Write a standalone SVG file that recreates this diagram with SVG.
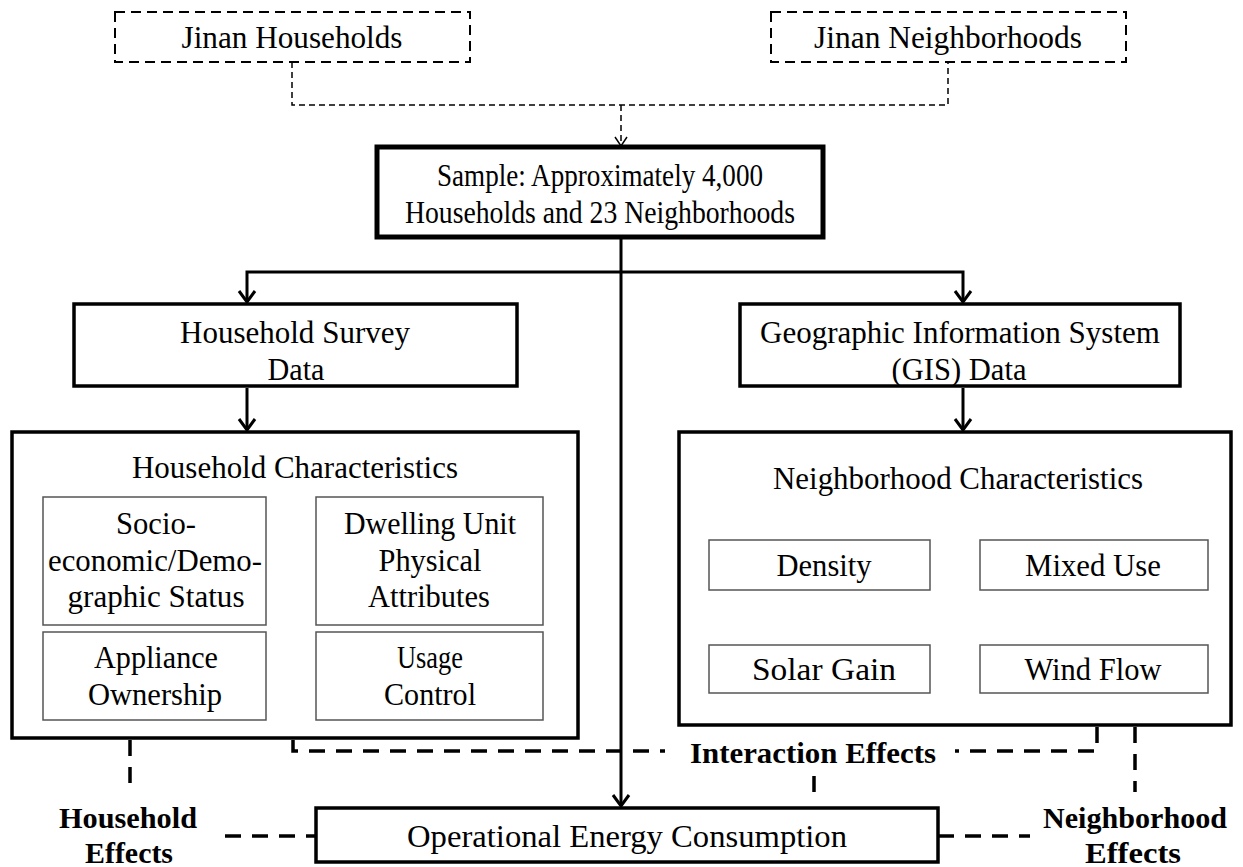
<svg xmlns="http://www.w3.org/2000/svg" width="1243" height="867" viewBox="0 0 1243 867">
<style>
text{font-family:"Liberation Serif","Times New Roman",serif;fill:#000;text-anchor:middle}
.t{font-size:31px}
.b{font-size:30px;font-weight:bold}
.dbox{fill:none;stroke:#000;stroke-width:2;stroke-dasharray:10 6}
.thick{fill:#fff;stroke:#000;stroke-width:5}
.box{fill:#fff;stroke:#000;stroke-width:3.5}
.inner{fill:#fff;stroke:#555;stroke-width:1.5}
.ln{fill:none;stroke:#000;stroke-width:3}
.thin{fill:none;stroke:#000;stroke-width:1.5;stroke-dasharray:6 4}
.dash{fill:none;stroke:#000;stroke-width:3.5;stroke-dasharray:16 11}
</style>
<defs>
<marker id="ah" markerUnits="userSpaceOnUse" markerWidth="20" markerHeight="20" refX="17" refY="10" orient="auto-start-reverse" viewBox="0 0 20 20">
<path d="M6,2 L17,10 L6,18" fill="none" stroke="#000" stroke-width="3"/>
</marker>
<marker id="ahs" markerUnits="userSpaceOnUse" markerWidth="16" markerHeight="16" refX="14" refY="8" orient="auto-start-reverse" viewBox="0 0 16 16">
<path d="M5,2 L14,8 L5,14" fill="none" stroke="#000" stroke-width="1.5"/>
</marker>
</defs>

<g id="connectors">
<path class="thin" d="M292,62 V105 H948 V62"/>
<path d="M621,105 V146" fill="none" stroke="#000" stroke-width="1.5" stroke-dasharray="6 4" marker-end="url(#ahs)"/>
<path class="ln" d="M621,239 V806" marker-end="url(#ah)"/>
<path class="ln" d="M247,302 V272 H963 V302" marker-end="url(#ah)" marker-start="url(#ah)"/>
<path class="ln" d="M247,388 V430" marker-end="url(#ah)"/>
<path class="ln" d="M963,388 V430" marker-end="url(#ah)"/>
<path class="dash" d="M130,740 V792"/>
<path class="dash" d="M293,740 V751 H665"/>
<path class="dash" d="M1097,727 V751 H955"/>
<path class="dash" d="M1135,727 V792"/>
<path class="dash" d="M814,776 V796"/>
<path class="dash" d="M225,836 H316"/>
<path class="dash" d="M938,836 H1030"/>
</g>

<g id="jinan-households">
<rect class="dbox" x="115" y="12" width="355" height="50"/>
<text class="t" x="292" y="48" textLength="221" lengthAdjust="spacingAndGlyphs">Jinan Households</text>
</g>
<g id="jinan-neighborhoods">
<rect class="dbox" x="771" y="12" width="355" height="50"/>
<text class="t" x="948" y="48" textLength="268" lengthAdjust="spacingAndGlyphs">Jinan Neighborhoods</text>
</g>
<g id="sample">
<rect class="thick" x="377" y="147" width="446" height="90"/>
<text class="t" x="600" y="186" textLength="326" lengthAdjust="spacingAndGlyphs">Sample: Approximately 4,000</text>
<text class="t" x="600" y="223" textLength="390" lengthAdjust="spacingAndGlyphs">Households and 23 Neighborhoods</text>
</g>
<g id="household-survey">
<rect class="box" x="74" y="304" width="443" height="82"/>
<text class="t" x="295" y="343" textLength="230" lengthAdjust="spacingAndGlyphs">Household Survey</text>
<text class="t" x="296" y="380" textLength="57" lengthAdjust="spacingAndGlyphs">Data</text>
</g>
<g id="gis">
<rect class="box" x="740" y="304" width="440" height="82"/>
<text class="t" x="960" y="343" textLength="400" lengthAdjust="spacingAndGlyphs">Geographic Information System</text>
<text class="t" x="959" y="380" textLength="135" lengthAdjust="spacingAndGlyphs">(GIS) Data</text>
</g>
<g id="household-characteristics">
<rect class="box" x="12" y="432" width="566" height="306"/>
<text class="t" x="295" y="478" textLength="326" lengthAdjust="spacingAndGlyphs">Household Characteristics</text>
<g id="socio">
<rect class="inner" x="43" y="497" width="223" height="128"/>
<text class="t" x="156" y="534" textLength="80" lengthAdjust="spacingAndGlyphs">Socio-</text>
<text class="t" x="155" y="571" textLength="214" lengthAdjust="spacingAndGlyphs">economic/Demo-</text>
<text class="t" x="156" y="607" textLength="177" lengthAdjust="spacingAndGlyphs">graphic Status</text>
</g>
<g id="dwelling">
<rect class="inner" x="316" y="497" width="227" height="128"/>
<text class="t" x="430" y="534" textLength="172" lengthAdjust="spacingAndGlyphs">Dwelling Unit</text>
<text class="t" x="430" y="571" textLength="103" lengthAdjust="spacingAndGlyphs">Physical</text>
<text class="t" x="429" y="607" textLength="122" lengthAdjust="spacingAndGlyphs">Attributes</text>
</g>
<g id="appliance">
<rect class="inner" x="43" y="632" width="223" height="88"/>
<text class="t" x="156" y="668" textLength="124" lengthAdjust="spacingAndGlyphs">Appliance</text>
<text class="t" x="155" y="705" textLength="134" lengthAdjust="spacingAndGlyphs">Ownership</text>
</g>
<g id="usage">
<rect class="inner" x="316" y="632" width="227" height="88"/>
<text class="t" x="430" y="668" textLength="66" lengthAdjust="spacingAndGlyphs">Usage</text>
<text class="t" x="430" y="705" textLength="92" lengthAdjust="spacingAndGlyphs">Control</text>
</g>
</g>
<g id="neighborhood-characteristics">
<rect class="box" x="679" y="432" width="552" height="293"/>
<text class="t" x="958" y="489" textLength="370" lengthAdjust="spacingAndGlyphs">Neighborhood Characteristics</text>
<g id="density">
<rect class="inner" x="709" y="540" width="221" height="50"/>
<text class="t" x="824" y="576" textLength="95" lengthAdjust="spacingAndGlyphs">Density</text>
</g>
<g id="mixed-use">
<rect class="inner" x="980" y="540" width="228" height="50"/>
<text class="t" x="1093" y="576" textLength="136" lengthAdjust="spacingAndGlyphs">Mixed Use</text>
</g>
<g id="solar-gain">
<rect class="inner" x="709" y="645" width="221" height="48"/>
<text class="t" x="824" y="680" textLength="144" lengthAdjust="spacingAndGlyphs">Solar Gain</text>
</g>
<g id="wind-flow">
<rect class="inner" x="980" y="645" width="228" height="48"/>
<text class="t" x="1093" y="680" textLength="137" lengthAdjust="spacingAndGlyphs">Wind Flow</text>
</g>
</g>
<g id="interaction-effects">
<text class="b" x="813" y="763" textLength="246" lengthAdjust="spacingAndGlyphs">Interaction Effects</text>
</g>
<g id="operational">
<rect class="box" x="316" y="808" width="622" height="54"/>
<text class="t" x="627" y="847" textLength="440" lengthAdjust="spacingAndGlyphs">Operational Energy Consumption</text>
</g>
<g id="household-effects">
<text class="b" x="128" y="828" textLength="138" lengthAdjust="spacingAndGlyphs">Household</text>
<text class="b" x="129" y="863" textLength="88" lengthAdjust="spacingAndGlyphs">Effects</text>
</g>
<g id="neighborhood-effects">
<text class="b" x="1135" y="828" textLength="184" lengthAdjust="spacingAndGlyphs">Neighborhood</text>
<text class="b" x="1133" y="863" textLength="96" lengthAdjust="spacingAndGlyphs">Effects</text>
</g>
</svg>
